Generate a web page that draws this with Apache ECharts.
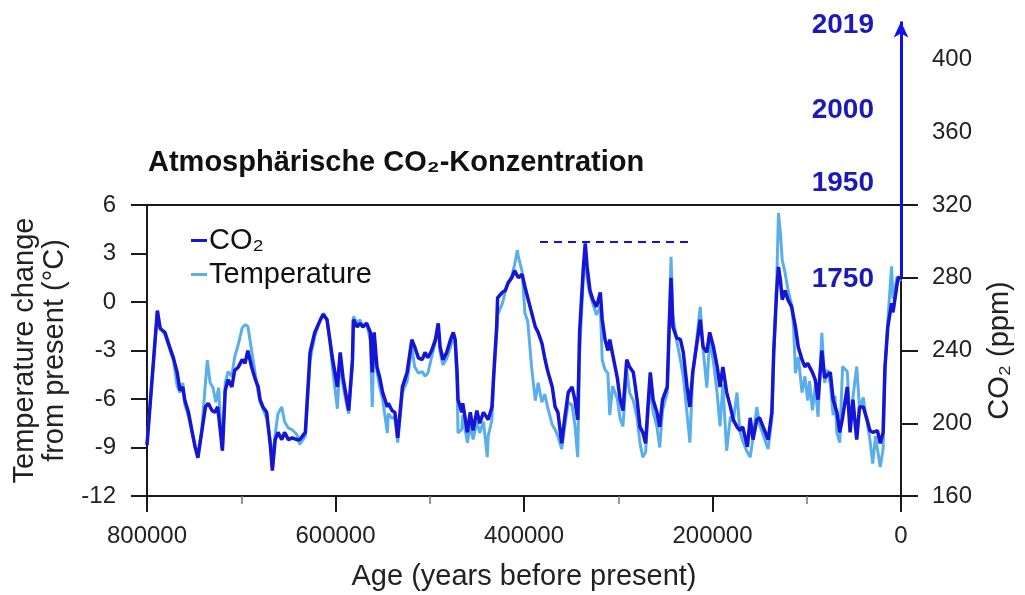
<!DOCTYPE html>
<html>
<head>
<meta charset="utf-8">
<script src="https://cdn.jsdelivr.net/npm/echarts@6/dist/echarts.min.js"></script>
<style>
  html, body { margin: 0; padding: 0; background: #fff; }
  #c { width: 1025px; height: 595px; }
</style>
</head>
<body>
<div id="c"></div>
<script>
// Ice-core record: CO2 (ppm) and temperature anomaly (°C) over the last 800 000 years
const co2Age = [800000,789000,786000,781000,776000,772000,768000,765000,762000,760000,756000,752000,749000,746000,744000,742000,738000,735000,731000,728000,725000,722000,720000,717000,714000,710000,707000,703000,699000,696000,693000,689000,685000,682000,680000,677000,673000,669000,667000,664000,661000,657000,654000,650000,646000,641000,638000,632000,627000,622000,616000,613000,609000,606000,603000,598000,595000,592000,588000,586000,582000,581000,577000,574000,571000,567000,563000,561000,559000,556000,553000,550000,545000,544000,540000,537000,534000,529000,524000,519000,516000,512000,508000,505000,502000,498000,494000,491000,489000,486000,482000,478000,475000,473000,471000,470000,466000,465000,460000,457000,454000,450000,447000,443000,438000,434000,432000,429000,428000,423000,420000,417000,413000,410000,406000,402000,399000,396000,392000,388000,385000,381000,378000,375000,370000,367000,364000,360000,357000,353000,349000,346000,343000,341000,337000,335000,333000,330000,327000,323000,319000,317000,314000,311000,309000,306000,301000,298000,295000,291000,288000,284000,280000,277000,274000,271000,268000,266000,263000,259000,256000,253000,248000,246000,244000,242000,238000,234000,231000,227000,224000,221000,216000,213000,210000,206000,203000,199000,195000,192000,189000,185000,181000,178000,174000,171000,168000,163000,160000,157000,153000,150000,144000,141000,137000,135000,132000,130000,128000,126000,123000,120000,116000,112000,109000,105000,102000,99000,94000,91000,88000,84000,81000,75000,72000,68000,65000,62000,57000,54000,51000,47000,44000,40000,36000,33000,30000,25000,22000,19000,17000,14000,10000,8500,4000,3000,0];
const co2Ppm = [188,262,252,250,242,236,228,218,220,213,206,195,187,181,180,195,209,211,207,206,209,195,185,218,224,220,229,231,235,233,240,231,224,220,213,209,206,187,174,191,195,191,195,191,192,191,191,195,239,250,257,260,257,246,235,220,239,225,213,207,235,257,253,255,253,255,250,228,250,231,225,217,209,211,207,206,192,220,228,246,242,236,235,239,236,240,246,255,242,235,239,246,250,246,228,213,206,211,195,206,196,207,200,206,202,209,228,253,269,272,273,277,280,284,280,282,275,269,261,253,250,244,236,229,220,209,206,189,202,217,220,213,202,250,286,299,286,273,268,264,272,257,246,240,246,238,225,213,207,235,231,228,213,198,195,189,213,228,213,206,198,213,220,253,280,253,247,246,239,220,209,228,246,257,242,239,250,242,231,220,231,217,209,202,198,196,198,187,203,191,202,203,195,191,206,240,272,286,279,268,273,268,264,253,242,235,231,233,228,224,213,240,225,228,213,206,195,203,220,195,213,191,209,209,202,196,195,196,189,195,231,253,266,261,277,280,280];

const tempAge = [800000,789000,786000,781000,776000,772000,768000,765000,762000,760000,756000,752000,749000,746000,744000,742000,738000,736000,733000,730000,727000,724000,722000,720000,717000,714000,710000,707000,703000,699000,696000,693000,689000,685000,682000,680000,677000,673000,669000,667000,664000,661000,657000,654000,650000,646000,641000,638000,632000,627000,622000,616000,613000,609000,606000,603000,598000,595000,592000,588000,586000,582000,581000,577000,574000,571000,567000,563000,561000,559000,556000,553000,550000,545000,544000,540000,537000,534000,529000,524000,519000,516000,512000,508000,505000,502000,498000,494000,491000,489000,486000,482000,478000,475000,473000,471000,470000,466000,465000,460000,457000,454000,450000,447000,443000,439000,438000,434000,432000,429000,428000,423000,420000,417000,413000,410000,407000,406000,402000,399000,396000,392000,388000,385000,381000,378000,375000,370000,367000,364000,360000,357000,353000,349000,346000,343000,341000,337000,335000,333000,330000,327000,323000,319000,317000,314000,311000,309000,306000,301000,298000,295000,291000,288000,284000,280000,277000,274000,271000,268000,266000,263000,259000,256000,253000,248000,246000,244000,242000,238000,234000,231000,227000,224000,221000,216000,213000,210000,206000,203000,199000,195000,192000,189000,185000,181000,178000,174000,171000,168000,163000,160000,157000,153000,150000,144000,141000,137000,135000,132000,130000,128000,126000,123000,120000,116000,114000,112000,109000,105000,102000,99000,97000,94000,91000,88000,84000,81000,78000,75000,72000,70000,68000,65000,62000,57000,54000,51000,47000,44000,40000,38000,36000,33000,30000,27000,25000,22000,19000,17000,14000,10000,8500,4000,3000,0];
const tempC = [-8.8,-0.6,-1.6,-2.0,-2.9,-3.6,-5.2,-5.6,-5.0,-6.3,-7.1,-8.1,-8.9,-9.4,-9.5,-8.0,-5.0,-3.6,-5.0,-5.3,-6.2,-5.3,-7.5,-9.2,-5.0,-4.3,-4.6,-3.4,-2.6,-1.6,-1.4,-1.5,-3.0,-4.5,-5.6,-6.2,-6.6,-7.2,-8.6,-9.8,-8.2,-6.9,-6.5,-7.4,-7.8,-7.9,-8.2,-8.8,-8.3,-3.6,-2.1,-1.1,-0.7,-1.1,-2.4,-4.2,-6.6,-3.4,-5.2,-6.4,-6.9,-3.9,-0.9,-1.3,-1.1,-1.5,-1.3,-2.4,-6.5,-2.1,-4.3,-5.3,-6.0,-8.1,-6.9,-7.2,-7.1,-8.7,-5.6,-4.9,-2.8,-4.0,-4.4,-4.3,-4.6,-4.4,-3.4,-2.5,-1.4,-3.1,-3.9,-3.5,-2.8,-2.1,-2.6,-5.0,-8.1,-7.9,-7.0,-8.7,-7.6,-8.5,-7.4,-8.1,-7.4,-9.6,-8.3,-7.3,-4.6,-1.9,-0.8,-0.1,0.6,1.2,1.6,2.3,3.2,2.8,1.9,-0.7,-1.2,-4.0,-6.1,-5.0,-6.2,-5.7,-6.5,-7.6,-7.9,-8.3,-9.1,-7.8,-6.2,-6.4,-7.6,-9.6,-3.2,1.6,2.9,1.4,0.5,-0.1,-0.8,-0.3,-3.6,-4.2,-4.4,-7.0,-5.2,-6.0,-7.2,-7.7,-4.2,-5.6,-6.1,-7.2,-8.7,-9.6,-9.3,-6.5,-5.2,-6.8,-7.7,-9.0,-6.7,-5.6,-1.8,2.8,-0.9,-2.4,-3.6,-4.6,-6.9,-8.7,-4.6,-1.9,-0.3,-2.9,-5.3,-2.3,-3.7,-5.7,-7.7,-5.1,-9.2,-7.1,-7.4,-5.6,-8.0,-8.6,-9.3,-9.6,-8.4,-6.5,-7.6,-8.6,-9.1,-7.2,-3.2,1.0,5.5,4.3,2.6,1.8,0.8,-0.2,-1.5,-4.4,-3.4,-5.6,-4.6,-6.1,-4.9,-6.7,-5.2,-7.1,-1.9,-5.0,-4.2,-5.1,-7.0,-5.8,-8.1,-8.7,-4.0,-4.3,-7.7,-5.9,-4.0,-6.6,-5.9,-6.8,-7.4,-8.5,-10.0,-8.3,-9.1,-10.2,-9.1,-4.2,-1.2,2.2,0.2,1.6,1.3,1.4];

// Year markers along the modern CO2 rise (label, ppm level of the label)
const yearLabels = ['2019', '2000', '1950', '1750'];
const yearPpm = [419, 372, 332, 279];

// CO2 axis tick labels
const co2TickLabels = [160, 200, 240, 280, 320];
const co2UpperLabels = [360, 400];

// Reference levels
const preIndustrialPpm = 280;
const arrowTopPpm = 421;
const peakLevelPpm = 300;
const peakLevelFrom = 383000;
const peakLevelTo = 224000;

const co2Data = co2Age.map((a, i) => [a, co2Ppm[i]]);
const tempData = tempAge.map((a, i) => [a, tempC[i]]);
const yearData = yearLabels.map((t, i) => [0, yearPpm[i], t]);

const FONT = '"Liberation Sans", Arial, Helvetica, sans-serif';
const INK = '#1a1a1a';
const CO2_COLOR = '#1616d2';
const TEMP_COLOR = '#5aaeec';
const ARROW_COLOR = '#1010ee';
const YEAR_COLOR = '#1a1ab8';

const axisLineStyle = { color: INK, width: 2 };

const chart = echarts.init(document.getElementById('c'), null, { renderer: 'canvas' });
chart.setOption({
  animation: false,
  backgroundColor: '#ffffff',
  textStyle: { fontFamily: FONT },
  title: {
    text: 'Atmosphärische CO₂-Konzentration',
    left: 143, top: 143,
    textStyle: { fontFamily: FONT, fontSize: 29, fontWeight: 'bold', color: '#111' }
  },
  legend: {
    orient: 'vertical',
    left: 186, top: 221,
    itemWidth: 16, itemHeight: 3, itemGap: 5,
    icon: 'rect',
    data: ['CO₂', 'Temperature'],
    textStyle: { fontFamily: FONT, fontSize: 29, color: '#111', padding: [0, 0, 0, -3] }
  },
  grid: [
    { left: 147, right: 124, top: 205, bottom: 99, show: true, borderColor: INK, borderWidth: 2 },
    { left: 147, right: 124, top: 16, bottom: 99 }
  ],
  xAxis: [
    {
      gridIndex: 0, type: 'value', min: 0, max: 800000, interval: 200000, inverse: true,
      axisLine: { show: true, onZero: false, lineStyle: axisLineStyle },
      axisTick: { show: true, length: 16, lineStyle: axisLineStyle },
      minorTick: { show: true, splitNumber: 2, length: 8, lineStyle: { color: '#777', width: 1.5 } },
      splitLine: { show: false },
      axisLabel: { fontFamily: FONT, fontSize: 24, color: '#222', margin: 28, formatter: v => String(v) },
      name: 'Age (years before present)', nameLocation: 'middle', nameGap: 66,
      nameTextStyle: { fontFamily: FONT, fontSize: 29, color: '#222' }
    },
    { gridIndex: 1, type: 'value', min: 0, max: 800000, inverse: true, show: false, axisLine: { onZero: false } }
  ],
  yAxis: [
    {
      gridIndex: 0, type: 'value', min: -12, max: 6, interval: 3, position: 'left',
      axisLine: { show: true, onZero: false, lineStyle: axisLineStyle },
      axisTick: { show: true, length: 16, lineStyle: axisLineStyle },
      splitLine: { show: false },
      axisLabel: { fontFamily: FONT, fontSize: 24, color: '#222', margin: 31 },
      name: 'Temperature change\nfrom present (°C)', nameLocation: 'middle', nameRotate: 90, nameGap: 72,
      nameTextStyle: { fontFamily: FONT, fontSize: 29, lineHeight: 30, color: '#222' }
    },
    {
      gridIndex: 0, type: 'value', min: 160, max: 320, interval: 40, position: 'right',
      axisLine: { show: false, onZero: false },
      axisTick: { show: true, length: 17, lineStyle: axisLineStyle, customValues: co2TickLabels },
      splitLine: { show: false },
      axisLabel: { fontFamily: FONT, fontSize: 24, color: '#222', margin: 31, customValues: co2TickLabels },
      name: 'CO₂ (ppm)', nameLocation: 'middle', nameRotate: 90, nameGap: 84,
      nameTextStyle: { fontFamily: FONT, fontSize: 29, color: '#222' }
    },
    {
      gridIndex: 1, type: 'value', min: 160, max: 424, interval: 40, position: 'right',
      axisLine: { show: false, onZero: false },
      axisTick: { show: false },
      splitLine: { show: false },
      axisLabel: { fontFamily: FONT, fontSize: 24, color: '#222', margin: 31, customValues: co2UpperLabels }
    }
  ],
  series: [
    {
      name: 'Temperature', type: 'line', xAxisIndex: 0, yAxisIndex: 0,
      data: tempData, symbol: 'none', z: 2,
      lineStyle: { color: TEMP_COLOR, width: 3 },
      itemStyle: { color: TEMP_COLOR }
    },
    {
      name: 'CO₂', type: 'line', xAxisIndex: 1, yAxisIndex: 2,
      data: co2Data, symbol: 'none', z: 3,
      lineStyle: { color: CO2_COLOR, width: 3.5 },
      itemStyle: { color: CO2_COLOR },
      markLine: {
        silent: true,
        symbol: ['none', 'none'],
        label: { show: false },
        data: [
          [
            { coord: [peakLevelFrom, peakLevelPpm], lineStyle: { color: ARROW_COLOR, width: 2, type: [8, 6] } },
            { coord: [peakLevelTo, peakLevelPpm] }
          ],
          [
            { coord: [0, preIndustrialPpm], symbol: 'none', lineStyle: { color: ARROW_COLOR, width: 3, type: 'solid' } },
            { coord: [0, arrowTopPpm], symbol: 'arrow', symbolSize: [11, 16] }
          ]
        ]
      }
    },
    {
      name: 'Jahre', type: 'scatter', xAxisIndex: 1, yAxisIndex: 2,
      data: yearData, symbol: 'circle', symbolSize: 0, z: 4, silent: true,
      itemStyle: { color: YEAR_COLOR, opacity: 1 },
      label: {
        show: true, position: 'left', distance: 27, opacity: 1,
        formatter: p => p.data[2],
        fontFamily: FONT, fontSize: 28, fontWeight: 'bold', color: YEAR_COLOR,
        textBorderWidth: 0
      }
    }
  ]
});
</script>
</body>
</html>
